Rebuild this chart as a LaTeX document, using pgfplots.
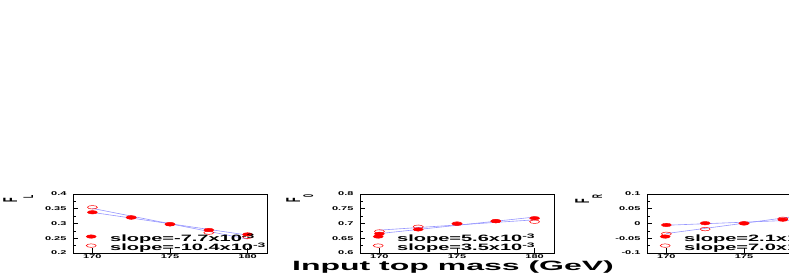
\documentclass[border=0pt]{standalone}
\usepackage{pgfplots}
\pgfplotsset{compat=1.18}
\usepackage{fontspec}
\setmainfont{Liberation Sans}
\definecolor{fitblue}{RGB}{150,150,255}
\pgfplotsset{
  panel/.style={
    scale only axis, width=194pt, height=59pt,
    anchor=south west,
    xmin=168.75, xmax=181.25,
    xtick={170,175,180},
    xticklabels={170,175,180},
    tick align=inside, tick pos=left,
    minor y tick num=1,
    major tick length=5pt, minor tick length=2.5pt,
    axis line style={line width=0.7pt},
    every tick/.style={black, line width=0.6pt},
    tick label style={font=\bfseries\fontsize{11}{11}\selectfont, yscale=0.5},
    xticklabel style={yshift=0pt},
    yticklabel style={xshift=-3pt},
    /pgf/number format/assume math mode=true,
    clip=false,
    legend style={draw=none, fill=none, inner sep=0pt, anchor=north west,
      at={(rel axis cs:0.067,0.33)}, row sep=0.4pt, column sep=14pt,
      font=\bfseries\fontsize{20}{20}\selectfont,
      nodes={inner sep=0pt, yscale=0.46}},
    legend cell align=left,
  },
  filled/.style={only marks, mark=*, red, mark size=5pt, mark options={yscale=0.35},
    legend image code/.code={\draw[##1] plot coordinates {(0pt,1.5pt)};}},
  hollow/.style={only marks, mark=o, red, mark size=5pt, mark options={yscale=0.35, line width=0.5pt, fill=white},
    legend image code/.code={\draw[##1] plot coordinates {(0pt,1.5pt)};}},
  fit/.style={fitblue, line width=0.6pt, forget plot},
}
\begin{document}
\begin{tikzpicture}[x=1pt,y=1pt]
\path[use as bounding box] (0,0) rectangle (789,273);
\clip (0,0) rectangle (789,273);
% Panel F_L
\begin{axis}[panel, at={(73pt,20pt)}, ymin=0.2, ymax=0.4,
  ytick={0.2,0.25,0.3,0.35,0.4}, yticklabels={0.2,0.25,0.3,0.35,0.4}]
\addplot[fit] coordinates {(170,0.3377) (180,0.2607)};
\addplot[fit] coordinates {(170,0.3512) (180,0.2472)};
\addplot[filled] coordinates {(170,0.338) (172.5,0.320) (175,0.297) (177.5,0.278) (180,0.263)};
\addplot[hollow] coordinates {(170,0.355) (172.5,0.321) (175,0.298) (177.5,0.269) (180,0.255)};
\legend{slope=-7.7x10\textsuperscript{-3}, slope=-10.4x10\textsuperscript{-3}}
\end{axis}
% Panel F_0
\begin{axis}[panel, at={(360pt,20pt)}, ymin=0.6, ymax=0.8,
  ytick={0.6,0.65,0.7,0.75,0.8}, yticklabels={0.6,0.65,0.7,0.75,0.8}]
\addplot[fit] coordinates {(170,0.6658) (180,0.7218)};
\addplot[fit] coordinates {(170,0.6775) (180,0.7125)};
\addplot[filled] coordinates {(170,0.665) (172.5,0.680) (175,0.699) (177.5,0.708) (180,0.718)};
\addplot[hollow] coordinates {(170,0.673) (172.5,0.689) (175,0.700) (177.5,0.708) (180,0.706)};
\legend{slope=5.6x10\textsuperscript{-3}, slope=3.5x10\textsuperscript{-3}}
\end{axis}
% Panel F_R
\begin{axis}[panel, at={(647pt,20pt)}, ymin=-0.1, ymax=0.1,
  xtick={170,175}, xticklabels={170,175},
  ytick={-0.1,-0.05,0,0.05,0.1}, yticklabels={-0.1,-0.05,0,0.05,0.1}]
\addplot[fit] coordinates {(170,-0.006) (180,0.015)};
\addplot[fit] coordinates {(170,-0.034) (180,0.036)};
\addplot[filled] coordinates {(170,-0.005) (172.5,0.001) (175,0.000) (177.5,0.013) (180,0.016)};
\addplot[hollow] coordinates {(170,-0.035) (172.5,-0.019) (175,0.001) (177.5,0.016) (180,0.034)};
\legend{slope=2.1x10\textsuperscript{-3}, slope=7.0x10\textsuperscript{-3}}
\end{axis}
% axis titles
\foreach \xx/\sub/\dr in {17/L/-16pt, 300/0/-13pt, 589/R/-13pt}{
  \node[anchor=base east, font=\bfseries\fontsize{20}{20}\selectfont, yscale=0.37, rotate=90, inner sep=0pt]
    at (\xx,78) {F\raisebox{\dr}{\fontsize{14}{14}\selectfont \sub}};
}
\node[anchor=base, font=\bfseries\fontsize{32}{32}\selectfont, yscale=0.42, inner sep=0pt] at (453,3) {Input top mass (GeV)};
\end{tikzpicture}
\end{document}
